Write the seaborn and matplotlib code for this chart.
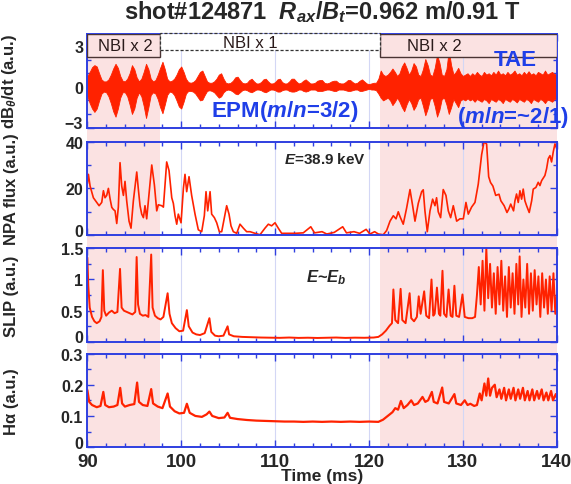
import numpy as np
import matplotlib
matplotlib.use("Agg")
import matplotlib.pyplot as plt
from matplotlib.patches import Rectangle
from matplotlib.ticker import MultipleLocator
from matplotlib.transforms import ScaledTranslation
import seaborn as sns

# ---- values ----
# dB/dt envelope (a.u.), one value every 0.25 ms from 90 to 140 ms
mag_upper = [0.8, 1.1, 1.45, 1.6, 1.5, 1.0, 0.55, 0.4, 0.4, 0.55, 0.9, 1.35,
             1.7, 1.4, 0.8, 0.45, 0.4, 0.6, 1.0, 1.6, 1.3, 0.7, 0.4, 0.6,
             1.1, 1.7, 1.3, 0.6, 0.4, 0.5, 0.9, 1.4, 1.85, 1.3, 0.6, 0.4,
             0.45, 0.6, 0.9, 1.3, 1.5, 1.1, 0.6, 0.35, 0.3, 0.35, 0.5, 0.8,
             1.1, 1.2, 0.8, 0.4, 0.3, 0.3, 0.4, 0.6, 0.9, 1.0, 0.6, 0.3,
             0.25, 0.3, 0.45, 0.7, 0.75, 0.5, 0.3, 0.25, 0.3, 0.5, 0.6, 0.4,
             0.25, 0.25, 0.35, 0.55, 0.6, 0.4, 0.25, 0.25, 0.35, 0.55, 0.6, 0.35,
             0.25, 0.25, 0.4, 0.6, 0.6, 0.4, 0.25, 0.3, 0.45, 0.55, 0.4, 0.25,
             0.25, 0.3, 0.45, 0.5, 0.5, 0.3, 0.25, 0.3, 0.4, 0.45, 0.45, 0.3,
             0.25, 0.25, 0.35, 0.5, 0.5, 0.35, 0.25, 0.3, 0.45, 0.55, 0.4, 0.25,
             0.2, 0.25, 0.3, 0.3, 0.6, 1.2, 0.9, 0.8, 0.9, 1.1, 1.35, 1.1,
             0.8, 1.0, 1.5, 1.8, 1.4, 0.9, 1.2, 1.75, 1.5, 0.9, 0.8, 1.3,
             2.05, 1.6, 0.9, 0.8, 1.4, 2.35, 1.8, 0.9, 0.8, 1.3, 2.7, 1.6,
             0.9, 1.1, 1.4, 1.0, 0.8, 0.9, 1.0, 0.8, 1.0, 0.85, 1.1, 0.9,
             0.8, 1.1, 0.9, 1.0, 0.85, 1.1, 0.9, 1.2, 0.9, 1.0, 0.85, 1.1,
             0.9, 1.0, 1.2, 0.9, 1.0, 0.85, 1.1, 0.9, 1.15, 0.9, 1.0, 0.85,
             1.1, 1.0, 0.9, 1.2, 0.9, 1.0, 1.1, 0.95, 0.9]
mag_lower = [-0.7, -1.2, -1.6, -1.85, -1.6, -1.0, -0.5, -0.35, -0.4, -0.7, -1.2, -1.8,
             -2.2, -1.6, -0.8, -0.4, -0.4, -0.7, -1.3, -2.0, -1.6, -0.8, -0.4, -0.7,
             -1.4, -2.3, -1.5, -0.6, -0.4, -0.5, -0.9, -1.5, -1.95, -1.3, -0.6, -0.35,
             -0.4, -0.6, -1.0, -1.45, -1.6, -1.1, -0.5, -0.3, -0.3, -0.35, -0.5, -0.75,
             -1.0, -0.95, -0.6, -0.3, -0.25, -0.3, -0.4, -0.6, -0.8, -0.7, -0.4, -0.25,
             -0.2, -0.25, -0.35, -0.5, -0.55, -0.4, -0.25, -0.2, -0.25, -0.35, -0.4, -0.3,
             -0.2, -0.2, -0.25, -0.35, -0.4, -0.3, -0.2, -0.2, -0.25, -0.35, -0.35, -0.25,
             -0.2, -0.2, -0.3, -0.35, -0.35, -0.3, -0.2, -0.2, -0.3, -0.35, -0.3, -0.2,
             -0.2, -0.2, -0.3, -0.3, -0.3, -0.25, -0.2, -0.2, -0.25, -0.3, -0.3, -0.2,
             -0.2, -0.2, -0.25, -0.3, -0.3, -0.25, -0.2, -0.2, -0.3, -0.3, -0.25, -0.2,
             -0.15, -0.2, -0.2, -0.25, -0.5, -0.8, -1.0, -0.9, -0.8, -1.0, -1.35, -1.1,
             -0.8, -1.1, -1.5, -1.8, -1.3, -0.9, -1.2, -1.7, -1.4, -0.9, -0.8, -1.4,
             -2.1, -1.6, -0.9, -0.8, -1.4, -2.2, -1.7, -0.9, -0.8, -1.3, -2.0, -1.5,
             -0.9, -1.2, -1.5, -1.0, -0.9, -1.0, -0.85, -1.0, -0.9, -1.1, -0.9, -1.0,
             -1.1, -0.9, -1.0, -1.2, -0.9, -1.0, -1.1, -0.9, -1.0, -1.2, -0.9, -1.0,
             -1.1, -0.9, -1.0, -1.15, -0.9, -1.0, -1.1, -0.9, -1.0, -1.2, -0.9, -1.0,
             -1.1, -0.9, -1.0, -1.2, -0.95, -1.0, -1.1, -0.9, -0.9]

# NPA flux (a.u.), E = 38.9 keV
npa_t = [90.0, 90.11, 90.29, 90.64, 91.0, 91.25, 91.53, 91.71, 91.88, 92.06, 92.24,
         92.42, 92.6, 92.77, 92.95, 93.13, 93.3, 93.48, 93.66, 93.84, 94.01, 94.19,
         94.44, 94.65, 94.9, 95.26, 95.43, 95.61, 95.79, 95.97, 96.14, 96.32, 96.57,
         96.86, 97.14, 97.39, 97.56, 97.92, 98.1, 98.45, 98.7, 98.99, 99.16, 99.34,
         99.52, 99.69, 99.98, 100.23, 100.4, 100.58, 100.83, 101.11, 101.47, 101.82,
         102.18, 102.46, 102.64, 102.82, 103.07, 103.24, 103.53, 103.78, 104.06,
         104.31, 104.59, 104.84, 105.09, 105.3, 105.55, 105.91, 106.26, 106.62,
         106.97, 107.33, 107.86, 108.39, 108.92, 109.28, 109.63, 109.99, 110.34,
         110.7, 111.41, 112.12, 113.0, 113.8, 114.2, 115.0, 115.5, 116.3, 117.2,
         117.6, 118.4, 119.0, 119.7, 120.1, 120.6, 121.0, 121.52, 121.88, 122.24,
         122.59, 122.88, 123.12, 123.3, 123.65, 124.01, 124.37, 124.65, 124.9,
         125.25, 125.61, 125.78, 125.96, 126.21, 126.5, 126.78, 127.03, 127.2,
         127.38, 127.63, 127.91, 128.2, 128.45, 128.7, 128.98, 129.34, 129.69,
         130.05, 130.33, 130.58, 130.93, 131.29, 131.64, 132.0, 132.25, 132.53,
         132.75, 132.95, 133.2, 133.5, 133.85, 134.05, 134.4, 134.7, 134.9, 135.1,
         135.4, 135.55, 135.72, 135.9, 136.08, 136.26, 136.43, 136.61, 136.79,
         137.07, 137.33, 137.5, 137.78, 138.03, 138.21, 138.39, 138.74, 138.92,
         139.1, 139.28, 139.45, 139.63, 139.81, 140.0]
npa_v = [22, 26, 21, 16, 14, 12.6, 14, 19, 16, 17, 20,
         15.5, 11.9, 11, 10.4, 5, 12, 31, 21, 17, 23, 14.7,
         6, 3, 14.7, 27, 19.7, 12.6, 9, 7.5, 12.6, 7, 17.6,
         30, 21.5, 10.4, 13, 12.6, 12, 31.3, 27.6, 16, 13.6, 8.3,
         4.7, 9, 5.3, 20, 26, 18.6, 25, 17, 9, 2.3,
         1.5, 8.3, 18.6, 10.4, 18.6, 9, 7.5, 5.3, 1.5,
         1.5, 7.5, 12.6, 9, 4, 1.5, 0.8, 4.7, 3,
         1.5, 1.5, 0.8, 0.2, 3, 4.7, 4, 5.3, 3,
         0.8, 0.8, 0.8, 1.0, 3.6, 1.0, 1.5, 0.5, 1.2, 3.6,
         1.0, 1.5, 0.8, 2.5, 0.5, 1.5, 0.5, 0.2, 2, 6,
         8.3, 7, 10, 8, 4.7, 11.6, 19.5, 12.6, 6,
         13.6, 18.6, 19.4, 10.4, 1.5, 10.4, 15.4, 12.6, 16,
         10, 7.5, 19.5, 17, 10.4, 7.5, 12.6, 6, 7,
         7, 14, 9, 12, 14, 21.8, 34.4, 39.8, 39,
         25, 22.5, 21, 17, 17.5, 14.7, 12.6, 9.7, 11.2, 13.3,
         10.4, 14.7, 17.6, 14, 19, 15.4, 19.7, 14.7, 12.6,
         9.7, 14.7, 19.7, 20.4, 22.6, 21.2, 23.3, 25.5, 28.4,
         32.7, 34, 31.3, 35.6, 39, 37]

# SLIP (a.u.), E ~ E_b
slip_t = [90.0, 90.1, 90.25, 90.5, 90.75, 91.0, 91.3, 91.5, 91.65, 91.8, 92.0,
          92.3, 92.6, 92.9, 93.2, 93.48, 93.65, 93.9, 94.2, 94.5, 94.8, 95.1,
          95.25, 95.4, 95.6, 95.9, 96.2, 96.5, 96.8, 96.95, 97.2, 97.5, 97.8,
          98.1, 98.55, 98.75, 99.0, 99.4, 99.8, 100.2, 100.6, 100.8, 101.2,
          101.6, 102.0, 102.5, 103.0, 103.2, 103.6, 104.0, 104.5, 104.94, 105.1,
          105.6, 106.5, 107.5, 108.5, 109.5, 110.5, 111.5, 112.5, 113.5, 114.5,
          115.5, 116.5, 117.5, 118.5, 119.5, 120.5, 121.0, 121.4, 121.8, 122.2,
          122.45, 122.6, 122.8, 123.1, 123.37, 123.55, 123.9, 124.33, 124.5,
          124.8, 125.1, 125.3, 125.5, 125.88, 126.1, 126.4, 126.66, 126.85,
          127.0, 127.24, 127.45, 127.6, 127.83, 128.0, 128.25, 128.48, 128.7,
          128.9, 129.1, 129.3, 129.6, 129.96, 130.2, 130.6, 131.0, 131.3, 131.5,
          131.7, 131.9, 132.1, 132.3, 132.5, 132.7, 132.9, 133.1, 133.3, 133.5,
          133.7, 133.9, 134.1, 134.3, 134.5, 134.7, 134.9, 135.1, 135.3, 135.5,
          135.7, 135.9, 136.05, 136.25, 136.45, 136.65, 136.85, 137.05, 137.25,
          137.45, 137.65, 137.85, 138.05, 138.25, 138.45, 138.65, 138.85, 139.05,
          139.25, 139.45, 139.65, 139.85, 140.0]
slip_v = [1.35, 0.9, 0.55, 0.4, 0.33, 0.3, 0.33, 0.4, 1.15, 0.5, 0.42,
          0.47, 0.5, 0.46, 0.48, 1.17, 0.55, 0.5, 0.48, 0.46, 0.44, 0.48,
          1.36, 0.6, 0.45, 0.42, 0.43, 0.4, 1.4, 0.55, 0.42, 0.38, 0.36,
          0.4, 0.78, 0.45, 0.3, 0.22, 0.17, 0.18, 0.51, 0.25, 0.15,
          0.12, 0.11, 0.14, 0.38, 0.16, 0.1, 0.09, 0.1, 0.25, 0.12,
          0.09, 0.08, 0.075, 0.07, 0.068, 0.065, 0.07, 0.064, 0.067, 0.063,
          0.066, 0.07, 0.064, 0.068, 0.066, 0.07, 0.08, 0.12, 0.18, 0.26,
          0.3, 0.84, 0.35, 0.3, 0.85, 0.35, 0.3, 0.78, 0.38,
          0.33, 0.4, 0.73, 0.45, 0.81, 0.42, 0.38, 1.0, 0.42,
          0.45, 0.87, 0.45, 0.42, 1.14, 0.45, 0.4, 0.84, 0.42,
          0.4, 0.9, 0.42, 0.4, 0.76, 0.4, 0.38, 0.38, 0.4, 0.75,
          1.2, 0.6, 1.3, 0.5, 1.5, 0.7, 1.25, 0.55, 1.1, 0.45,
          1.2, 0.6, 1.3, 0.5, 1.05, 0.4, 1.2, 0.55, 1.1, 0.45,
          1.25, 0.6, 1.37, 0.4, 1.0, 0.55, 1.25, 0.45, 1.1,
          0.5, 1.15, 0.6, 1.05, 0.4, 1.1, 0.55, 1.0, 0.45,
          1.05, 0.5, 1.1, 0.45, 0.75]

# H-alpha (a.u.)
ha_t = [90.0, 90.2, 90.5, 91.0, 91.4, 91.7, 91.9, 92.3, 92.8, 93.2, 93.5, 93.7,
        94.0, 94.5, 95.0, 95.3, 95.5, 95.9, 96.4, 96.8, 97.0, 97.5, 98.0, 98.55,
        98.8, 99.3, 99.8, 100.3, 100.6, 100.9, 101.5, 102.2, 102.7, 103.0, 103.3,
        104.0, 104.6, 104.94, 105.2, 106.0, 107.0, 108.0, 109.0, 110.0, 111.0,
        112.0, 113.0, 114.0, 115.0, 116.0, 117.0, 118.0, 119.0, 120.0, 121.0,
        121.5, 122.0, 122.5, 122.8, 123.1, 123.4, 123.7, 124.1, 124.5, 124.8,
        125.2, 125.7, 126.0, 126.3, 126.7, 126.9, 127.3, 127.8, 128.0, 128.5,
        129.1, 129.3, 129.8, 130.2, 130.5, 130.8, 131.2, 131.5, 131.8, 132.0,
        132.3, 132.5, 132.7, 132.9, 133.1, 133.4, 133.6, 133.9, 134.1, 134.4,
        134.6, 134.9, 135.1, 135.4, 135.6, 135.9, 136.1, 136.4, 136.6, 136.9,
        137.1, 137.4, 137.6, 137.9, 138.1, 138.4, 138.6, 138.9, 139.1, 139.4,
        139.6, 139.9, 140.0]
ha_v = [0.183, 0.145, 0.135, 0.128, 0.132, 0.177, 0.135, 0.128, 0.13, 0.135, 0.19, 0.14,
        0.13, 0.135, 0.138, 0.207, 0.145, 0.135, 0.132, 0.186, 0.14, 0.13, 0.125, 0.172,
        0.13, 0.115, 0.108, 0.11, 0.139, 0.11, 0.1, 0.097, 0.105, 0.114, 0.1,
        0.093, 0.095, 0.11, 0.094, 0.09, 0.087, 0.085, 0.084, 0.083, 0.082,
        0.082, 0.081, 0.082, 0.081, 0.082, 0.081, 0.082, 0.081, 0.082, 0.081,
        0.088, 0.1, 0.112, 0.125, 0.12, 0.148, 0.125, 0.135, 0.15, 0.135,
        0.14, 0.161, 0.145, 0.15, 0.177, 0.145, 0.14, 0.191, 0.145, 0.14,
        0.17, 0.14, 0.135, 0.15, 0.135, 0.139, 0.132, 0.135, 0.172, 0.15,
        0.204, 0.165, 0.22, 0.165, 0.19, 0.2, 0.16, 0.185, 0.155, 0.19,
        0.15, 0.185, 0.155, 0.19, 0.15, 0.185, 0.155, 0.19, 0.15, 0.18,
        0.15, 0.185, 0.15, 0.18, 0.155, 0.185, 0.15, 0.175, 0.15, 0.18,
        0.15, 0.17, 0.16]

# NBI phases (ms)
nbi2_spans = [(90.0, 97.75), (121.15, 140.0)]
nbi1_span = (97.75, 121.15)

red = "#ff2200"
blue = "#2f3fe0"
txt_blue = "#1f3fe8"
pink = "#fbe2e2"

sns.set_theme(style="ticks")
plt.rcParams["font.family"] = ["Liberation Sans", "DejaVu Sans"]
plt.rcParams["font.weight"] = "bold"
plt.rcParams["mathtext.fontset"] = "custom"
plt.rcParams["mathtext.it"] = "Liberation Sans:italic:bold"
plt.rcParams["mathtext.rm"] = "Liberation Sans:bold"
plt.rcParams["mathtext.bf"] = "Liberation Sans:bold"

fig = plt.figure(figsize=(5.71, 4.85), dpi=100)

left, width, h = 0.153, 0.822, 0.193
bottoms = [0.735, 0.513, 0.293, 0.076]

# background axes for the NBI x 2 shading running through all panels
bg = fig.add_axes([left, bottoms[-1], width, bottoms[0] + h - bottoms[-1]])
bg.set_xlim(90, 140)
for a, b in nbi2_spans:
    bg.axvspan(a, b, color=pink, lw=0)
bg.axis("off")
bg.set_zorder(0)

axes = [fig.add_axes([left, b, width, h]) for b in bottoms]
for ax in axes:
    ax.set_facecolor("none")
    ax.set_zorder(1)
    ax.set_xlim(90, 140)
    ax.xaxis.set_major_locator(MultipleLocator(10))
    ax.xaxis.set_minor_locator(MultipleLocator(2))
    ax.grid(axis="x", which="major", color="#d3d7f5", lw=0.8)
    ax.tick_params(which="both", direction="in", top=True, right=True,
                   color=blue, width=1.0, labelsize=11.5, pad=3)
    ax.tick_params(which="major", length=5)
    ax.tick_params(which="minor", length=3)
    for s in ax.spines.values():
        s.set_color(blue)
        s.set_linewidth(1.4)
    if ax is not axes[-1]:
        ax.tick_params(labelbottom=False)

# panel 1: magnetic fluctuation
ax1 = axes[0]
t_mag = np.linspace(90, 140, len(mag_upper))
ax1.fill_between(t_mag, mag_lower, mag_upper, color=red, lw=0.6, edgecolor=red)
ax1.set_ylim(-3, 3.9)
ax1.set_yticks([-3, 0, 3])
ax1.yaxis.set_minor_locator(MultipleLocator(1))
ax1.set_ylabel(r"dB$_\theta$/dt (a.u.)", fontsize=12, fontweight="bold")
for a, b in nbi2_spans:
    ax1.add_patch(Rectangle((a, 2.2), b - a, 1.7, facecolor=pink,
                            edgecolor="#4a3434", lw=1.0, zorder=3))
ax1.add_patch(Rectangle((nbi1_span[0], 2.68), nbi1_span[1] - nbi1_span[0], 1.3,
                        facecolor="white", edgecolor="#333333", lw=0.9,
                        ls=(0, (2.5, 1.5)), zorder=3, clip_on=False))
ax1.text(94.0, 3.02, "NBI x 2", ha="center", va="center", fontsize=12,
         fontweight="normal", color="#2a1a1a", zorder=4)
ax1.text(107.35, 3.3, "NBI x 1", ha="center", va="center", fontsize=12,
         fontweight="normal", color="#2a1a1a", zorder=4)
ax1.text(127.0, 3.05, "NBI x 2", ha="center", va="center", fontsize=12,
         fontweight="normal", color="#2a1a1a", zorder=4)
ax1.text(135.6, 2.05, "TAE", ha="center", va="center", fontsize=16,
         fontweight="bold", color=txt_blue, zorder=4)
ax1.text(111.0, -1.72, "EPM($m/n$=3/2)", ha="center", va="center", fontsize=16,
         fontweight="bold", color=txt_blue, zorder=4)
ax1.text(129.4, -2.2, "($m/n$=~2/1)", ha="left", va="center", fontsize=16,
         fontweight="bold", color=txt_blue, zorder=4, clip_on=False)

# panel 2: NPA flux
ax2 = axes[1]
sns.lineplot(x=npa_t, y=npa_v, ax=ax2, color=red, lw=1.2)
ax2.set_ylim(0, 40)
ax2.set_yticks([0, 20, 40])
ax2.yaxis.set_minor_locator(MultipleLocator(10))
ax2.set_ylabel("NPA flux (a.u.)", fontsize=12, fontweight="bold")
ax2.text(115.3, 32.6, "$E$=38.9 keV", ha="center", va="center", fontsize=11,
         fontweight="bold")

# panel 3: SLIP
ax3 = axes[2]
sns.lineplot(x=slip_t, y=slip_v, ax=ax3, color=red, lw=1.4)
ax3.set_ylim(0, 1.5)
ax3.set_yticks([0, 0.5, 1, 1.5])
ax3.set_yticklabels(["0", "0.5", "1", "1.5"])
ax3.yaxis.set_minor_locator(MultipleLocator(0.25))
ax3.set_ylabel("SLIP (a.u.)", fontsize=12, fontweight="bold")
ax3.text(115.5, 1.04, "$E$~$E_b$", ha="center", va="center", fontsize=12,
         fontweight="bold")

# panel 4: H-alpha
ax4 = axes[3]
sns.lineplot(x=ha_t, y=ha_v, ax=ax4, color=red, lw=1.6)
ax4.set_ylim(0, 0.3)
ax4.set_yticks([0, 0.1, 0.2, 0.3])
ax4.set_yticklabels(["0", "0.1", "0.2", "0.3"])
ax4.yaxis.set_minor_locator(MultipleLocator(0.05))
ax4.set_ylabel("H\u03b1 (a.u.)", fontsize=12, fontweight="bold")
ax4.set_xlabel("Time (ms)", fontsize=12.5, fontweight="bold", labelpad=-1)
ax4.tick_params(axis="x", labelsize=13.5, pad=4)

for ax in axes:
    ax.yaxis.set_label_coords(-0.145, 0.5)
    for lab in ax.get_xticklabels() + ax.get_yticklabels():
        lab.set_fontweight("bold")
    # lift the lowest y label a little, as in the reference, so it clears the panel below
    low = ax.get_yticklabels()[0]
    low.set_transform(low.get_transform() + ScaledTranslation(0, 4 / 72, fig.dpi_scale_trans))

fig.text(0.564, 0.975, r"shot#124871  $R_{ax}$/$B_t$=0.962 m/0.91 T",
         ha="center", va="center", fontsize=17, fontweight="bold")

fig.savefig("out.png", dpi=100)
